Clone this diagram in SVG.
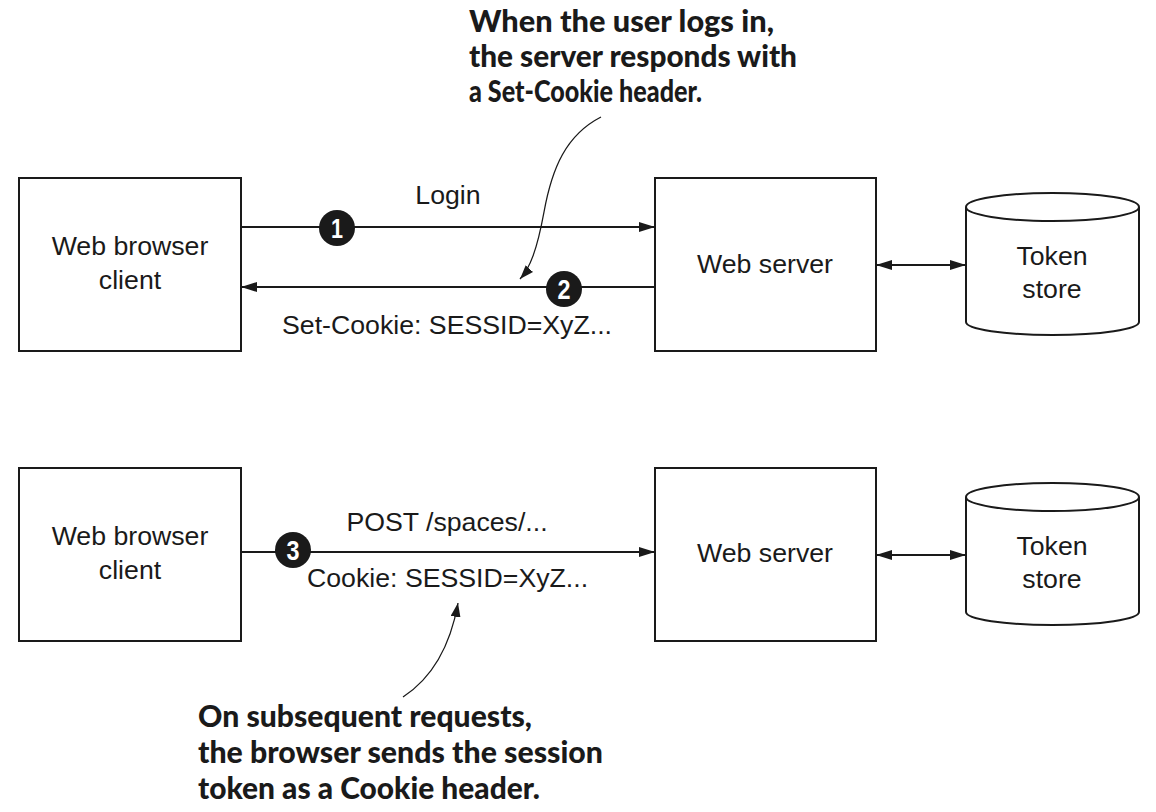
<svg xmlns="http://www.w3.org/2000/svg" width="1156" height="812" viewBox="0 0 1156 812">
<style>
.box{fill:#fff;stroke:#1a1a1a;stroke-width:2}
.lbl{font-family:"Liberation Sans",Arial,sans-serif;font-size:26.7px;fill:#1a1a1a}
.mid{text-anchor:middle}
.ln{fill:none;stroke:#1a1a1a;stroke-width:2}
.cl{fill:none;stroke:#1a1a1a;stroke-width:1.3}
.num{fill:#1a1a1a}
.digit{font-family:"Liberation Sans",Arial,sans-serif;font-weight:bold;font-size:28px;fill:#fff;text-anchor:middle}
.note{font-family:Lato,"Liberation Sans",sans-serif;font-weight:900;font-size:30px;fill:#1a1a1a}
</style>
<defs>
<marker id="ah" viewBox="0 0 16 10" refX="16" refY="5" markerWidth="16" markerHeight="10" markerUnits="userSpaceOnUse" orient="auto-start-reverse">
<path d="M0,0 L16,5 L0,10 Z" fill="#1a1a1a"/>
</marker>
<marker id="ah2" viewBox="0 0 14 10" refX="14" refY="5" markerWidth="14" markerHeight="10" markerUnits="userSpaceOnUse" orient="auto">
<path d="M0,0 L14,5 L0,10 Z" fill="#1a1a1a"/>
</marker>
</defs>

<g id="client1">
<rect class="box" x="19" y="178" width="222" height="173"/>
<text class="lbl mid" x="130" y="255">Web browser</text>
<text class="lbl mid" x="130" y="289">client</text>
</g>
<g id="server1">
<rect class="box" x="655" y="178" width="221" height="173"/>
<text class="lbl mid" x="765" y="273">Web server</text>
</g>
<g id="store1">
<path class="box" d="M966,207 L966,322 A86.5,13 0 0 0 1139,322 L1139,207"/>
<ellipse class="box" cx="1052.5" cy="207" rx="86.5" ry="14"/>
<text class="lbl mid" x="1052" y="265">Token</text>
<text class="lbl mid" x="1052" y="298">store</text>
</g>

<g id="client2">
<rect class="box" x="19" y="468" width="222" height="173"/>
<text class="lbl mid" x="130" y="545">Web browser</text>
<text class="lbl mid" x="130" y="579">client</text>
</g>
<g id="server2">
<rect class="box" x="655" y="468" width="221" height="173"/>
<text class="lbl mid" x="765" y="562">Web server</text>
</g>
<g id="store2">
<path class="box" d="M966,497 L966,612 A86.5,13 0 0 0 1139,612 L1139,497"/>
<ellipse class="box" cx="1052.5" cy="497" rx="86.5" ry="14"/>
<text class="lbl mid" x="1052" y="555">Token</text>
<text class="lbl mid" x="1052" y="588">store</text>
</g>

<g id="connectors">
<line class="ln" x1="241" y1="227" x2="655" y2="227" marker-end="url(#ah)"/>
<line class="ln" x1="655" y1="287" x2="241" y2="287" marker-end="url(#ah)"/>
<line class="ln" x1="876" y1="265" x2="966" y2="265" marker-start="url(#ah)" marker-end="url(#ah)"/>
<line class="ln" x1="241" y1="552" x2="655" y2="552" marker-end="url(#ah)"/>
<line class="ln" x1="876" y1="555" x2="966" y2="555" marker-start="url(#ah)" marker-end="url(#ah)"/>
<path class="cl" d="M601,117 C566,135 552,168 544,212 C537,250 530,268 520,279" marker-end="url(#ah2)"/>
<path class="cl" d="M403,697 C432,678 450,648 458,603" marker-end="url(#ah2)"/>
</g>

<g id="labels">
<text class="lbl mid" x="448" y="204">Login</text>
<text class="lbl" x="282" y="334">Set-Cookie: SESSID=XyZ...</text>
<text class="lbl mid" x="447" y="531">POST /spaces/...</text>
<text class="lbl" x="307" y="587">Cookie: SESSID=XyZ...</text>
</g>

<g id="badge1">
<circle class="num" cx="337" cy="228" r="18"/>
<text class="digit" x="337" y="238" textLength="12" lengthAdjust="spacingAndGlyphs">1</text>
</g>
<g id="badge2">
<circle class="num" cx="564" cy="289" r="18"/>
<text class="digit" x="564" y="299" textLength="13" lengthAdjust="spacingAndGlyphs">2</text>
</g>
<g id="badge3">
<circle class="num" cx="293" cy="550" r="18"/>
<text class="digit" x="293" y="560" textLength="13" lengthAdjust="spacingAndGlyphs">3</text>
</g>

<g id="note-top">
<text class="note" x="469" y="32" textLength="305" lengthAdjust="spacingAndGlyphs">When the user logs in,</text>
<text class="note" x="469" y="67" textLength="328" lengthAdjust="spacingAndGlyphs">the server responds with</text>
<text class="note" x="469" y="102" textLength="233" lengthAdjust="spacingAndGlyphs">a Set-Cookie header.</text>
</g>
<g id="note-bottom">
<text class="note" x="198" y="727" textLength="334" lengthAdjust="spacingAndGlyphs">On subsequent requests,</text>
<text class="note" x="198" y="763" textLength="405" lengthAdjust="spacingAndGlyphs">the browser sends the session</text>
<text class="note" x="198" y="799" textLength="342" lengthAdjust="spacingAndGlyphs">token as a Cookie header.</text>
</g>
</svg>
